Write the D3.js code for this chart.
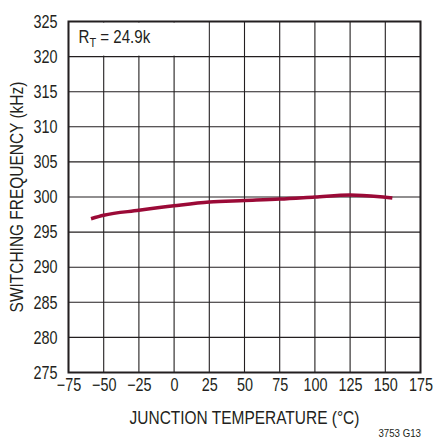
<!DOCTYPE html>
<html>
<head>
<meta charset="utf-8">
<script src="https://cdn.jsdelivr.net/npm/d3@7"></script>
<style>
  body { margin: 0; background: #fff; }
  text { font-family: "Liberation Sans", Arial, sans-serif; fill: #231f20; }
</style>
</head>
<body>
<div id="chart"></div>
<script>
// junction temperature (°C) vs switching frequency (kHz)
var temps = [-59, -50, -25, 0, 25, 50, 75, 100, 125, 150, 155];
var freqs = [296.9, 297.4, 298.1, 298.75, 299.3, 299.5, 299.7, 300.0, 300.3, 299.95, 299.85];

var xTicks = [-75, -50, -25, 0, 25, 50, 75, 100, 125, 150, 175];
var yTicks = [275, 280, 285, 290, 295, 300, 305, 310, 315, 320, 325];

var margin = { top: 21.5, right: 14.5, bottom: 67.5, left: 68.5 },
    width = 435 - margin.left - margin.right,
    height = 440 - margin.top - margin.bottom;

// no condensed font available, so squeeze text horizontally
function squeeze(sel, k) {
    k = k || 0.8;
    sel.each(function () {
        var t = d3.select(this);
        var x0 = +t.attr("x") || 0;
        var tr = t.attr("transform") || "";
        t.attr("x", x0 / k)
            .attr("transform", tr + " scale(" + k + ",1)");
    });
}

var svg = d3.select("#chart")
    .append("svg")
    .attr("width", 435)
    .attr("height", 440);

var g = svg.append("g")
    .attr("transform", "translate(" + margin.left + "," + margin.top + ")");

var x = d3.scaleLinear().domain([-75, 175]).range([0, width]);
var y = d3.scaleLinear().domain([275, 325]).range([height, 0]);

// grid
g.selectAll(".vgrid")
    .data(xTicks)
    .enter().append("line")
    .attr("x1", function (d) { return x(d); })
    .attr("x2", function (d) { return x(d); })
    .attr("y1", 0)
    .attr("y2", height)
    .attr("stroke", "#231f20")
    .attr("stroke-width", 1.1);

g.selectAll(".hgrid")
    .data(yTicks)
    .enter().append("line")
    .attr("y1", function (d) { return y(d); })
    .attr("y2", function (d) { return y(d); })
    .attr("x1", 0)
    .attr("x2", width)
    .attr("stroke", "#231f20")
    .attr("stroke-width", 1.1);

// white box behind the R_T label
g.append("rect")
    .attr("x", 1)
    .attr("y", 1)
    .attr("width", x(25) - 2)
    .attr("height", y(320) - 2)
    .attr("fill", "#fff");

g.append("rect")
    .attr("width", width)
    .attr("height", height)
    .attr("fill", "none")
    .attr("stroke", "#231f20")
    .attr("stroke-width", 2);

// axes (labels only)
var xAxis = g.append("g")
    .attr("transform", "translate(0," + height + ")")
    .call(d3.axisBottom(x).tickValues(xTicks).tickSize(0).tickPadding(6)
        .tickFormat(function (d) { return d < 0 ? "\u2212" + Math.abs(d) : d; }));
xAxis.select(".domain").remove();
xAxis.selectAll("text").style("font-size", "18px").call(squeeze, 0.8);

var yAxis = g.append("g")
    .call(d3.axisLeft(y).tickValues(yTicks).tickSize(0).tickPadding(11));
yAxis.select(".domain").remove();
yAxis.selectAll("text").style("font-size", "18px").call(squeeze, 0.8);

// data line
var line = d3.line()
    .x(function (d, i) { return x(temps[i]); })
    .y(function (d) { return y(d); })
    .curve(d3.curveMonotoneX);

g.append("path")
    .datum(freqs)
    .attr("fill", "none")
    .attr("stroke", "#9b0a37")
    .attr("stroke-width", 3.5)
    .attr("d", line);

// R_T label
var rt = g.append("text")
    .attr("x", 10)
    .attr("y", 22)
    .style("font-size", "18px");
rt.append("tspan").text("R");
rt.append("tspan").attr("dy", 4).style("font-size", "13px").text("T");
rt.append("tspan").attr("dy", -4).text(" = 24.9k");
rt.call(squeeze, 0.84);

// axis titles
svg.append("text")
    .attr("x", margin.left + width / 2)
    .attr("y", 424)
    .attr("text-anchor", "middle")
    .style("font-size", "18px")
    .text("JUNCTION TEMPERATURE (\u00B0C)")
    .call(squeeze, 0.86);

svg.append("text")
    .attr("transform", "translate(23," + (margin.top + height / 2) + ") rotate(-90)")
    .attr("text-anchor", "middle")
    .style("font-size", "18px")
    .text("SWITCHING FREQUENCY (kHz)")
    .call(squeeze, 0.86);

svg.append("text")
    .attr("x", 421)
    .attr("y", 437)
    .attr("text-anchor", "end")
    .style("font-size", "11px")
    .text("3753 G13")
    .call(squeeze, 0.88);
</script>
</body>
</html>
